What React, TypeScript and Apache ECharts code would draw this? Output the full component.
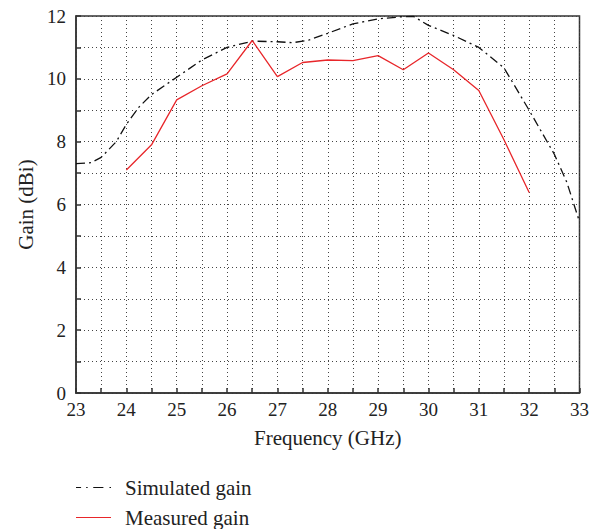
import React, { useEffect, useRef } from "react";
import * as echarts from "echarts";

const simFreq = [23, 23.3, 23.5, 23.8, 24, 24.25, 24.5, 25, 25.5, 26, 26.5, 27, 27.3, 27.6, 28, 28.5, 29, 29.5, 29.7, 30, 30.5, 31, 31.5, 32, 32.5, 32.75, 33];
const simGain = [7.3, 7.33, 7.5, 8.0, 8.55, 9.1, 9.5, 10.05, 10.6, 11.0, 11.2, 11.18, 11.15, 11.22, 11.45, 11.75, 11.91, 11.98, 11.99, 11.7, 11.38, 11.0, 10.35, 9.0, 7.6, 6.7, 5.45];

const measFreq = [24, 24.5, 25, 25.5, 26, 26.5, 27, 27.5, 28, 28.5, 29, 29.5, 30, 30.5, 31, 31.5, 32];
const measGain = [7.1, 7.9, 9.33, 9.78, 10.16, 11.22, 10.07, 10.52, 10.6, 10.58, 10.74, 10.29, 10.82, 10.29, 9.63, 8.06, 6.38];

const seriesNames = ["Simulated gain", "Measured gain"];

const FONT = "'Liberation Serif', 'DejaVu Serif', serif";
const DASH_ICON = "path://M0,0h5v1h-5z M10,0h1.5v1h-1.5z M17,0h10v1h-10z M33,0h1.5v1h-1.5z";
const SOLID_ICON = "path://M0,0h35v1h-35z";

export default function App() {
  const ref = useRef<HTMLDivElement>(null);
  useEffect(() => {
    if (!ref.current) return;
    const chart = echarts.init(ref.current, null, { renderer: "svg" });
    const gridLine = { show: true, lineStyle: { color: "#444", type: [1, 3] as any, width: 1 } };
    chart.setOption({
      animation: false,
      backgroundColor: "#fff",
      grid: { left: 76, top: 16, right: 10, bottom: 136, show: true, borderColor: "#333", borderWidth: 1.5, backgroundColor: "transparent" },
      legend: {
        orient: "vertical",
        left: 76,
        top: 477,
        padding: 0,
        itemWidth: 35,
        itemHeight: 1.4,
        itemGap: 9,
        textStyle: { fontFamily: FONT, fontSize: 21, color: "#222", lineHeight: 20, padding: [0, 0, 0, 9] },
        data: [
          { name: seriesNames[0], icon: DASH_ICON },
          { name: seriesNames[1], icon: SOLID_ICON },
        ],
      },
      xAxis: {
        type: "value",
        min: 23,
        max: 33,
        interval: 0.5,
        name: "Frequency (GHz)",
        nameLocation: "middle",
        nameGap: 34,
        nameTextStyle: { fontFamily: FONT, fontSize: 21, color: "#222" },
        axisLine: { show: true, lineStyle: { color: "#333", width: 1.5 } },
        axisTick: { show: true, inside: true, length: 5, lineStyle: { color: "#333", width: 1.5 } },
        axisLabel: {
          fontFamily: FONT, fontSize: 19, color: "#222", margin: 7,
          formatter: (v: number) => (Number.isInteger(v) ? String(v) : ""),
        },
        splitLine: gridLine,
      },
      yAxis: {
        type: "value",
        min: 0,
        max: 12,
        interval: 1,
        name: "Gain (dBi)",
        nameLocation: "middle",
        nameGap: 38,
        nameTextStyle: { fontFamily: FONT, fontSize: 21, color: "#222" },
        axisLine: { show: true, lineStyle: { color: "#333", width: 1.5 } },
        axisTick: { show: true, inside: true, length: 5, lineStyle: { color: "#333", width: 1.5 } },
        axisLabel: {
          fontFamily: FONT, fontSize: 19, color: "#222", margin: 10,
          formatter: (v: number) => (v % 2 === 0 ? String(v) : ""),
        },
        splitLine: gridLine,
      },
      series: [
        {
          name: seriesNames[0],
          type: "line",
          symbol: "none",
          data: simFreq.map((f, i) => [f, simGain[i]]),
          lineStyle: { color: "#111", width: 1.3, type: [9, 4, 2, 4] },
          itemStyle: { color: "#111" },
        },
        {
          name: seriesNames[1],
          type: "line",
          symbol: "none",
          data: measFreq.map((f, i) => [f, measGain[i]]),
          lineStyle: { color: "#e8262a", width: 1.3 },
          itemStyle: { color: "#e8262a" },
        },
      ],
    });
    return () => chart.dispose();
  }, []);
  return <div ref={ref} style={{ position: "absolute", left: 0, top: 0, width: 592, height: 529 }} />;
}
